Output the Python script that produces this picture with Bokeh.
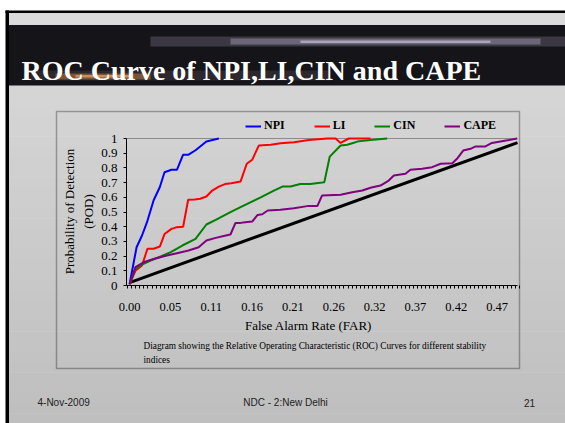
import numpy as np
from bokeh.plotting import figure
from bokeh.models import (Range1d, LinearAxis, FixedTicker, Label, BoxAnnotation,
                          Legend, LegendItem)
from bokeh.embed import file_html
from bokeh.resources import INLINE

# ---------------- data (FAR on x, POD on y) ----------------
far_npi = [0.000, 0.009, 0.016, 0.023, 0.031, 0.039, 0.045, 0.054, 0.061, 0.069,
           0.076, 0.085, 0.099, 0.107, 0.115]
pod_npi = [0.01, 0.26, 0.34, 0.44, 0.58, 0.67, 0.77, 0.787, 0.787, 0.89,
           0.89, 0.92, 0.98, 0.99, 1.0]

far_li = [0.000, 0.0075, 0.016, 0.023, 0.031, 0.039, 0.045, 0.054, 0.061, 0.069,
          0.0755, 0.084, 0.091, 0.099, 0.1065, 0.115, 0.123, 0.131, 0.143, 0.151,
          0.158, 0.1665, 0.182, 0.1945, 0.212, 0.231, 0.255, 0.2655, 0.272, 0.2825,
          0.3105]
pod_li = [0.01, 0.10, 0.136, 0.25, 0.25, 0.265, 0.35, 0.385, 0.397, 0.40,
          0.583, 0.585, 0.59, 0.605, 0.646, 0.673, 0.69, 0.696, 0.707, 0.828,
          0.855, 0.952, 0.957, 0.968, 0.975, 0.99, 1.0, 1.0, 0.97, 1.0,
          1.0]

far_cin = [0.000, 0.0075, 0.016, 0.027, 0.040, 0.053, 0.068, 0.085, 0.099, 0.111,
           0.130, 0.143, 0.169, 0.186, 0.197, 0.2075, 0.220, 0.233, 0.248, 0.251,
           0.258, 0.272, 0.2805, 0.287, 0.2955, 0.3105, 0.332]
pod_cin = [0.01, 0.113, 0.143, 0.17, 0.197, 0.227, 0.272, 0.317, 0.415, 0.447,
           0.499, 0.533, 0.60, 0.646, 0.673, 0.673, 0.69, 0.69, 0.70, 0.703,
           0.877, 0.952, 0.957, 0.968, 0.982, 0.99, 1.0]

far_cape = [0.000, 0.0075, 0.018, 0.031, 0.048, 0.061, 0.076, 0.089, 0.099, 0.111,
            0.124, 0.130, 0.1365, 0.143, 0.149, 0.158, 0.165, 0.171, 0.178, 0.1945,
            0.2117, 0.229, 0.242, 0.248, 0.272, 0.287, 0.300, 0.3105, 0.3234, 0.334,
            0.3406, 0.3556, 0.362, 0.377, 0.390, 0.401, 0.416, 0.422, 0.430, 0.4394,
            0.446, 0.4587, 0.467, 0.478, 0.489, 0.4996]
pod_cape = [0.007, 0.125, 0.158, 0.18, 0.204, 0.22, 0.238, 0.26, 0.306, 0.324,
            0.34, 0.347, 0.426, 0.426, 0.43, 0.435, 0.48, 0.485, 0.51, 0.515,
            0.526, 0.54, 0.54, 0.612, 0.617, 0.635, 0.646, 0.665, 0.68, 0.714,
            0.748, 0.76, 0.787, 0.794, 0.805, 0.828, 0.832, 0.862, 0.918, 0.93,
            0.946, 0.946, 0.97, 0.98, 0.99, 1.0]

far_diag = [0.0, 0.5]
pod_diag = [0.02, 0.972]

x_ticks = [0.0, 0.0526, 0.1053, 0.1579, 0.2105, 0.2632, 0.3158, 0.3684, 0.4211, 0.4737]
x_tick_labels = ["0.00", "0.05", "0.11", "0.16", "0.21", "0.26", "0.32", "0.37", "0.42", "0.47"]
y_ticks = [0, 0.1, 0.2, 0.3, 0.4, 0.5, 0.6, 0.7, 0.8, 0.9, 1]
y_tick_labels = ["0", "0.1", "0.2", "0.3", "0.4", "0.5", "0.6", "0.7", "0.8", "0.9", "1"]

series_names = ["NPI", "LI", "CIN", "CAPE"]
series_colors = ["#0000FF", "#FF0000", "#008000", "#800080"]

title_text = "ROC Curve of NPI,LI,CIN and CAPE"
x_title = "False Alarm Rate (FAR)"
y_title = ["Probability of Detection", "(POD)"]
caption = ["Diagram showing the Relative Operating Characteristic (ROC) Curves for different stability",
           "indices"]
footer = ["4-Nov-2009", "NDC - 2:New Delhi", "21"]

SERIF = "Liberation Serif"
SANS = "Liberation Sans"

# ---------------- layout (pixels) ----------------
W, H = 565, 423
PL, PR, PT, PB = 126, 517, 138, 285        # plot area in pixels
FAR0, FAR1 = -0.004, 0.5                   # data at plot area left/right
kx = (PR - PL) / (FAR1 - FAR0)
ky = (PB - PT) / 1.0
x_range = Range1d(FAR0 - PL / kx, FAR1 + (W - PR) / kx)
y_range = Range1d(-(H - PB) / ky, 1.0 + PT / ky)

p = figure(width=W, height=H, output_backend="svg", toolbar_location=None,
           x_range=x_range, y_range=y_range, min_border=0,
           x_axis_type=None, y_axis_type=None)
p.outline_line_color = None
p.border_fill_color = "white"
p.background_fill_color = "white"
p.title.visible = False


def cbox(l, r, t, b, color, alpha=1.0, level="image", line_color=None, line_width=1):
    p.add_layout(BoxAnnotation(left=l, right=r, top=t, bottom=b,
                               left_units="canvas", right_units="canvas",
                               top_units="canvas", bottom_units="canvas",
                               fill_color=color, fill_alpha=alpha,
                               line_color=line_color, line_width=line_width,
                               level=level))


# slide background gradient (bands)
n_bands = 40
top_c = np.array([0xdb, 0xdb, 0xdb])
bot_c = np.array([0xbf, 0xbf, 0xbf])
y0, y1 = 12.5, H
for i in range(n_bands):
    t = i / (n_bands - 1)
    c = (top_c + (bot_c - top_c) * t).astype(int)
    col = "#%02x%02x%02x" % tuple(c)
    a = y0 + (y1 - y0) * i / n_bands
    b = y0 + (y1 - y0) * (i + 1) / n_bands + 0.6
    cbox(8.5, W, a, b, col, level="image")

# slide frame borders
cbox(5, W, 10, 12.5, "black", level="underlay")
cbox(5, 8.5, 10, H, "black", level="underlay")

# title band with light streaks
cbox(8.5, W, 24.5, 85, "#141419", level="underlay")
cbox(150, W, 36, 46, "#6a6478", 0.45, level="glyph")
cbox(230, 540, 38, 44, "#a9a1bb", 0.45, level="glyph")
cbox(300, 490, 40, 42.5, "#e0d8ee", 0.55, level="glyph")
cbox(30, 330, 70, 80, "#4a4048", 0.45, level="glyph")
cbox(55, 150, 73, 79, "#c07a44", 0.55, level="glyph")
cbox(75, 130, 74.5, 77, "#f4b878", 0.6, level="glyph")

p.add_layout(Label(x=21, y=70, x_units="canvas", y_units="canvas", text=title_text,
                   text_font=SERIF, text_font_style="bold", text_font_size="28px",
                   text_color="white", text_baseline="alphabetic", text_align="left",
                   level="overlay"))

# chart box
cbox(56, 519, 111, 368, None, 0, level="underlay", line_color="black", line_width=1.5)
# plot area top border (POD = 1)
cbox(PL, PR, PT - 0.5, PT + 0.5, "#8c8c8c", 1, level="underlay")

# ---------------- series ----------------
p.line(far_diag, pod_diag, line_color="black", line_width=3)
renderers = []
for fx, fy, col in zip([far_npi, far_li, far_cin, far_cape],
                       [pod_npi, pod_li, pod_cin, pod_cape], series_colors):
    renderers.append(p.line(fx, fy, line_color=col, line_width=2))

# ---------------- axes (fixed inside the frame) ----------------
minor = list(np.arange(-0.5, 96.0, 1.0) / 190.0)
xaxis = LinearAxis(ticker=FixedTicker(ticks=x_ticks, minor_ticks=minor),
                   major_label_overrides=dict(zip(x_ticks, x_tick_labels)),
                   fixed_location=0, bounds=(FAR0, FAR1))
xaxis.axis_line_color = "black"
xaxis.axis_line_width = 1
xaxis.major_tick_out = 0
xaxis.major_tick_in = 0
xaxis.minor_tick_out = 3
xaxis.minor_tick_in = 0
xaxis.minor_tick_line_color = "black"
xaxis.major_label_standoff = 14
xaxis.major_label_text_font = SERIF
xaxis.major_label_text_font_size = "12.5px"
xaxis.major_label_text_color = "black"
p.add_layout(xaxis, "below")

yaxis = LinearAxis(ticker=FixedTicker(ticks=y_ticks, minor_ticks=[]),
                   major_label_overrides=dict(zip(y_ticks, y_tick_labels)),
                   fixed_location=FAR0, bounds=(0, 1))
yaxis.axis_line_color = "black"
yaxis.axis_line_width = 1
yaxis.major_tick_out = 3
yaxis.major_tick_in = 0
yaxis.major_tick_line_color = "black"
yaxis.minor_tick_out = 0
yaxis.major_label_standoff = 6
yaxis.major_label_text_font = SERIF
yaxis.major_label_text_font_size = "13px"
yaxis.major_label_text_color = "black"
p.add_layout(yaxis, "left")

# axis titles
p.add_layout(Label(x=308, y=325, x_units="canvas", y_units="canvas", text=x_title,
                   text_font=SERIF, text_font_size="13px", text_color="black",
                   text_align="center", text_baseline="middle"))
p.add_layout(Label(x=69, y=211, x_units="canvas", y_units="canvas", text=y_title[0],
                   text_font=SERIF, text_font_size="13px", text_color="black",
                   text_align="center", text_baseline="middle", angle=np.pi / 2))
p.add_layout(Label(x=87.5, y=211, x_units="canvas", y_units="canvas", text=y_title[1],
                   text_font=SERIF, text_font_size="13px", text_color="black",
                   text_align="center", text_baseline="middle", angle=np.pi / 2))

# caption
for i, line in enumerate(caption):
    p.add_layout(Label(x=143, y=345 + 14 * i, x_units="canvas", y_units="canvas",
                       text=line, text_font=SERIF, text_font_size="9.3px",
                       text_color="black", text_align="left", text_baseline="middle"))

# footer
for txt, xx, al in zip(footer, [37, 285, 529], ["left", "center", "center"]):
    p.add_layout(Label(x=xx, y=402, x_units="canvas", y_units="canvas", text=txt,
                       text_font=SANS, text_font_size="10px", text_color="#222222",
                       text_align=al, text_baseline="middle"))

# legend
legend = Legend(items=[LegendItem(label=n, renderers=[r]) for n, r in zip(series_names, renderers)],
                orientation="horizontal", location=(245, H - 133),
                label_text_font=SERIF, label_text_font_style="bold",
                label_text_font_size="12px", label_text_color="black",
                glyph_width=16, glyph_height=14, label_height=14, label_width=1,
                label_standoff=3, spacing=29, padding=0, margin=0,
                background_fill_alpha=0, border_line_alpha=0)
p.add_layout(legend)

open("out.html", "w").write(file_html(p, INLINE))
